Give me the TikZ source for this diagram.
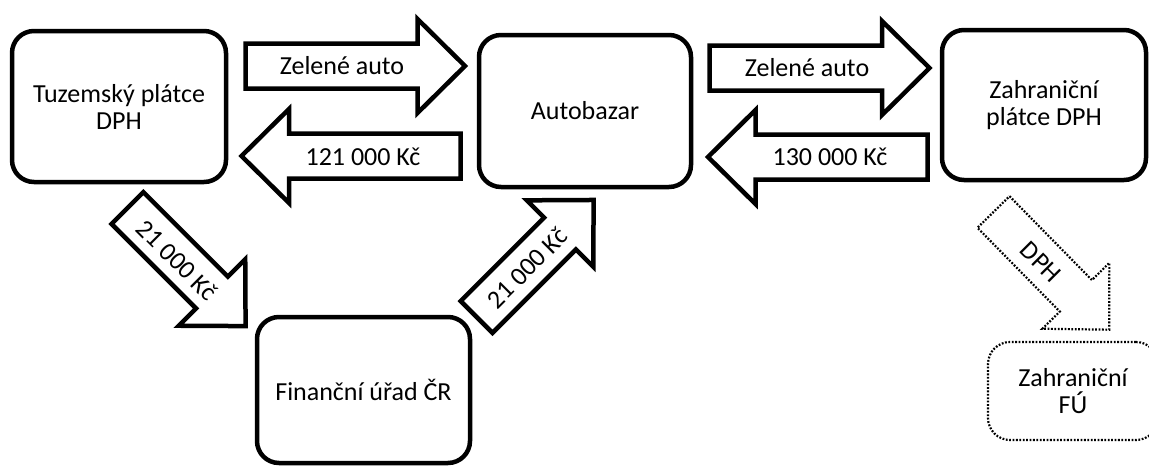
\documentclass[tikz,border=0pt]{standalone}
\usepackage{fontspec}
\setmainfont{Carlito}

% block arrow: tail point, direction angle, total length
\newcommand{\arrshaft}{22.5}
\newcommand{\arrheadw}{47}
\newcommand{\arrheadlen}{47.5}
\newcommand{\blockarrow}[4][]{%
  \begin{scope}[shift={(#2)}, rotate=#3]
    \draw[arrowline,#1] (0,-\arrshaft) -- ({#4-\arrheadlen},-\arrshaft)
      -- ({#4-\arrheadlen},-\arrheadw) -- (#4,0) -- ({#4-\arrheadlen},\arrheadw)
      -- ({#4-\arrheadlen},\arrshaft) -- (0,\arrshaft) -- cycle;
  \end{scope}}

\begin{document}
\begin{tikzpicture}[x=1pt,y=-1pt,
  box/.style={draw, line width=4.5pt, rounded corners=22pt, inner sep=0pt,
    font=\fontsize{26}{27}\selectfont, align=center},
  dotbox/.style={box, line width=2.2pt, dash pattern=on 1.8pt off 1.6pt},
  arrowline/.style={draw, line width=4.5pt, line join=miter, fill=white},
  dotline/.style={line width=2.2pt, dash pattern=on 1.8pt off 1.6pt},
  lbl/.style={font=\fontsize{26}{27}\selectfont, inner sep=0pt, align=center}]

\useasboundingbox (0,0) rectangle (1149,469);

% tails of the block arrows
\coordinate (a1) at (245.5,66);
\coordinate (a2) at (460.5,156);
\coordinate (a3) at (709.5,68);
\coordinate (a4) at (927.5,157);
\coordinate (d1) at (127.5,208);
\coordinate (d2) at (476.6,317);
\coordinate (d3) at (993.5,212);

% block arrows
\blockarrow{a1}{0}{219.5}
\blockarrow{a2}{180}{219}
\blockarrow{a3}{0}{220}
\blockarrow{a4}{180}{219.5}
\blockarrow{d1}{-45}{167}
\blockarrow{d2}{45}{165.5}
\blockarrow[dotline]{d3}{-45.5}{165}

% parties
\node[box, minimum width=214pt, minimum height=151pt] (tuz) at (119,106.5) {Tuzemský plátce\\DPH};
\node[box, minimum width=212pt, minimum height=152pt] (bazar) at (585,111) {Autobazar};
\node[box, minimum width=204pt, minimum height=150pt] (zahr) at (1044,105) {Zahraniční\\plátce DPH};
\node[box, minimum width=213pt, minimum height=146pt] (fu) at (363.5,390) {Finanční úřad ČR};
\node[dotbox, minimum width=170pt, minimum height=98pt] (zfu) at (1073,391) {Zahraniční\\FÚ};

% arrow labels
\node[lbl, anchor=base] (t1) at (342,74) {Zelené auto};
\node[lbl, anchor=base] (t2) at (363,165) {121 000 Kč};
\node[lbl, anchor=base] (t3) at (807,76) {Zelené auto};
\node[lbl, anchor=base] (t4) at (830,165) {130 000 Kč};
\node[lbl, rotate=-45] (t5) at (177,260) {21 000 Kč};
\node[lbl, rotate=45] (t6) at (527,268) {21 000 Kč};
\node[lbl, rotate=-45] (t7) at (1041,262) {DPH};

\end{tikzpicture}
\end{document}
